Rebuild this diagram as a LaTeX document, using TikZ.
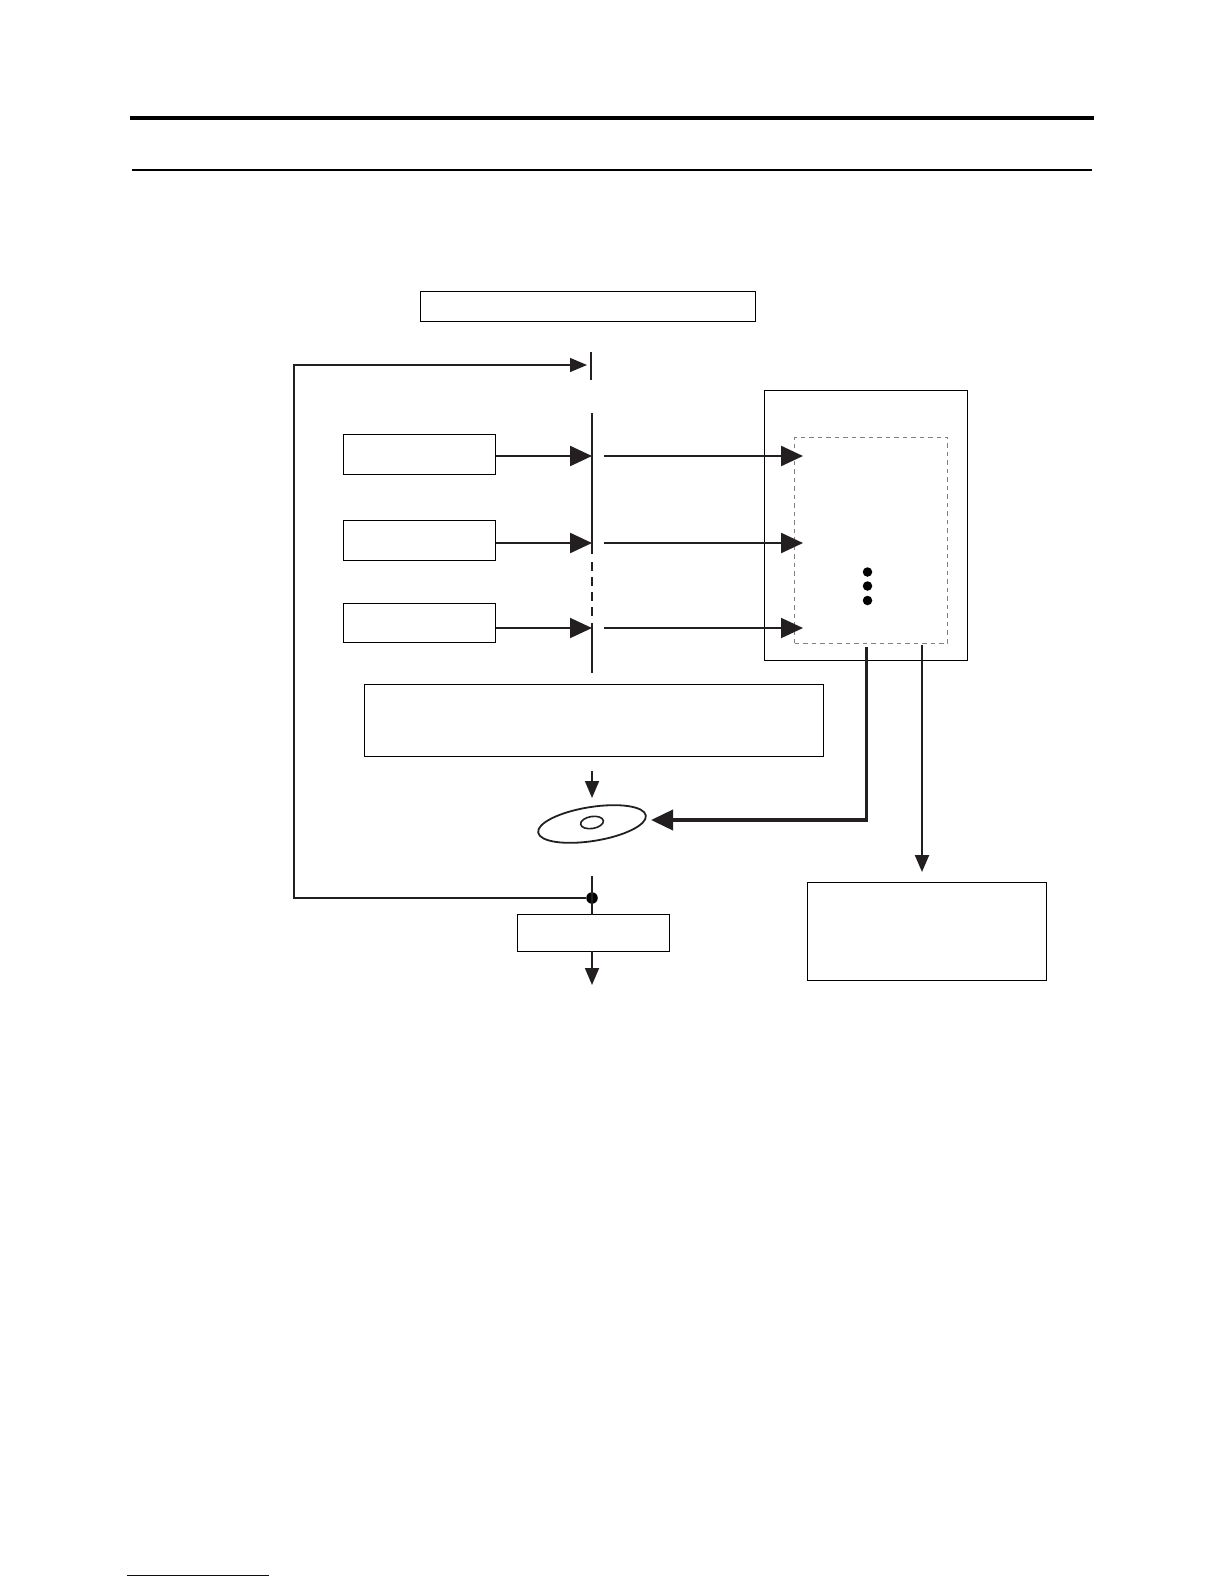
\documentclass[tikz,border=0pt]{standalone}
\usepackage{xcolor}
\usetikzlibrary{arrows.meta,positioning,shapes.geometric}
\definecolor{flowink}{HTML}{231F20}
\definecolor{flowgrey}{HTML}{808080}
\definecolor{linkblue}{HTML}{000080}

\begin{document}
\begin{tikzpicture}[
  x=1pt, y=-1pt,
  stagebox/.style={draw=black, line width=1pt, fill=white, outer sep=0pt, inner sep=0pt},
  sourcebox/.style={stagebox, minimum width=152pt, minimum height=40pt},
  bigarrow/.style={-{Triangle[length=22pt,width=20pt]}, draw=flowink, line width=2.4pt},
  smallarrow/.style={-{Triangle[length=17pt,width=14pt]}, draw=flowink, line width=1.8pt},
  busline/.style={draw=flowink, line width=1.8pt},
  blob/.style={circle, fill=black, inner sep=0pt, minimum size=9.5pt, outer sep=0pt}
]
\useasboundingbox (0,0) rectangle (1224,1584);
% page rules
\coordinate (ruleAl) at (130,118);
\coordinate (ruleAr) at (1094,118);
\coordinate (ruleBl) at (132,170);
\coordinate (ruleBr) at (1092,170);
\coordinate (linkl) at (127,1575);
\coordinate (linkr) at (269,1575);
\draw[black, line width=4pt] (ruleAl) -- (ruleAr);
\draw[black, line width=2pt] (ruleBl) -- (ruleBr);
\draw[linkblue, line width=1pt] (linkl) -- (linkr);
% boxes
\node[stagebox, minimum width=335pt, minimum height=30pt] (header) at (588,306.5) {};
\node[sourcebox] (srcA) at (419.5,454.5) {};
\node[sourcebox, below=46pt of srcA] (srcB) {};
\node[sourcebox, below=43pt of srcB, minimum height=39pt] (srcC) {};
\node[stagebox, minimum width=203pt, minimum height=270pt] (panel) at (866,525.5) {};
\node[draw=flowgrey, dash pattern=on 4.5pt off 4pt, line width=1pt, minimum width=153pt, minimum height=206pt, outer sep=0pt, inner sep=0pt] (slots) at (871,540) {};
\node[stagebox, minimum width=459pt, minimum height=72pt] (mux) at (594,720.5) {};
\node[ellipse, draw=flowink, line width=1.8pt, minimum width=109pt, minimum height=34pt, rotate=9, inner sep=0pt, outer sep=0pt] (disc) at (592,824) {};
\node[ellipse, draw=flowink, line width=1.6pt, minimum width=23pt, minimum height=12pt, rotate=9, inner sep=0pt, outer sep=0pt] (hole) at (592,822.5) {};
\node[stagebox, minimum width=152pt, minimum height=36.5pt] (output) at (593.5,933.2) {};
\node[stagebox, minimum width=239pt, minimum height=98pt] (result) at (927,931.5) {};
\node[blob, minimum size=11.5pt] (tapdot) at (592,898) {};
\node[blob] (dotA) at (867.5,572) {};
\node[blob, below=4.5pt of dotA] (dotB) {};
\node[blob, below=5pt of dotB] (dotC) {};
% free ends
\coordinate (gateAt) at (591,352);
\coordinate (gateAb) at (591,380);
\coordinate (busAt) at (592,413);
\coordinate (busAb) at (592,554);
\coordinate (busBt) at (592,562);
\coordinate (busBb) at (592,618);
\coordinate (busCt) at (592,623);
\coordinate (busCb) at (592,673);
\coordinate (tipA) at (592,456);
\coordinate (tipB) at (592,543);
\coordinate (tipC) at (592,628);
\coordinate (tapA) at (604,456);
\coordinate (tapB) at (604,543);
\coordinate (tapC) at (604,628);
\coordinate (inA) at (803,456);
\coordinate (inB) at (803,543);
\coordinate (inC) at (803,628);
\coordinate (loopB) at (294,898);
\coordinate (loopT) at (294,365);
\coordinate (loopH) at (587,365);
\coordinate (writeS) at (592,771);
\coordinate (writeE) at (592,798);
\coordinate (readS) at (592,876);
\coordinate (outE) at (592,985);
\coordinate (panelS) at (866.5,647);
\coordinate (discIn) at (651,820);
\coordinate (resS) at (922,645);
\coordinate (resE) at (922,872);
% bus
\draw[busline] (gateAt) -- (gateAb);
\draw[busline] (busAt) -- (busAb);
\draw[busline, dash pattern=on 9pt off 6pt] (busBt) -- (busBb);
\draw[busline] (busCt) -- (busCb);
% inputs
\draw[bigarrow] (srcA.east |- tipA) -- (tipA);
\draw[bigarrow] (srcB.east |- tipB) -- (tipB);
\draw[bigarrow, line width=1.9pt] (srcC.east |- tipC) -- (tipC);
\draw[bigarrow] (tapA) -- (inA);
\draw[bigarrow] (tapB) -- (inB);
\draw[bigarrow, line width=1.9pt] (tapC) -- (inC);
% loop and output
\draw[smallarrow, line width=1.4pt] (tapdot) -- (loopB) -- (loopT) -- (loopH);
\draw[smallarrow] (writeS) -- (writeE);
\draw[busline] (readS) -- (output.north -| readS);
\draw[smallarrow] (output.south -| outE) -- (outE);
\draw[bigarrow, line width=3.8pt] (panelS) |- (discIn);
\draw[smallarrow, line width=2.2pt] (resS) -- (resE);
\end{tikzpicture}
\end{document}
